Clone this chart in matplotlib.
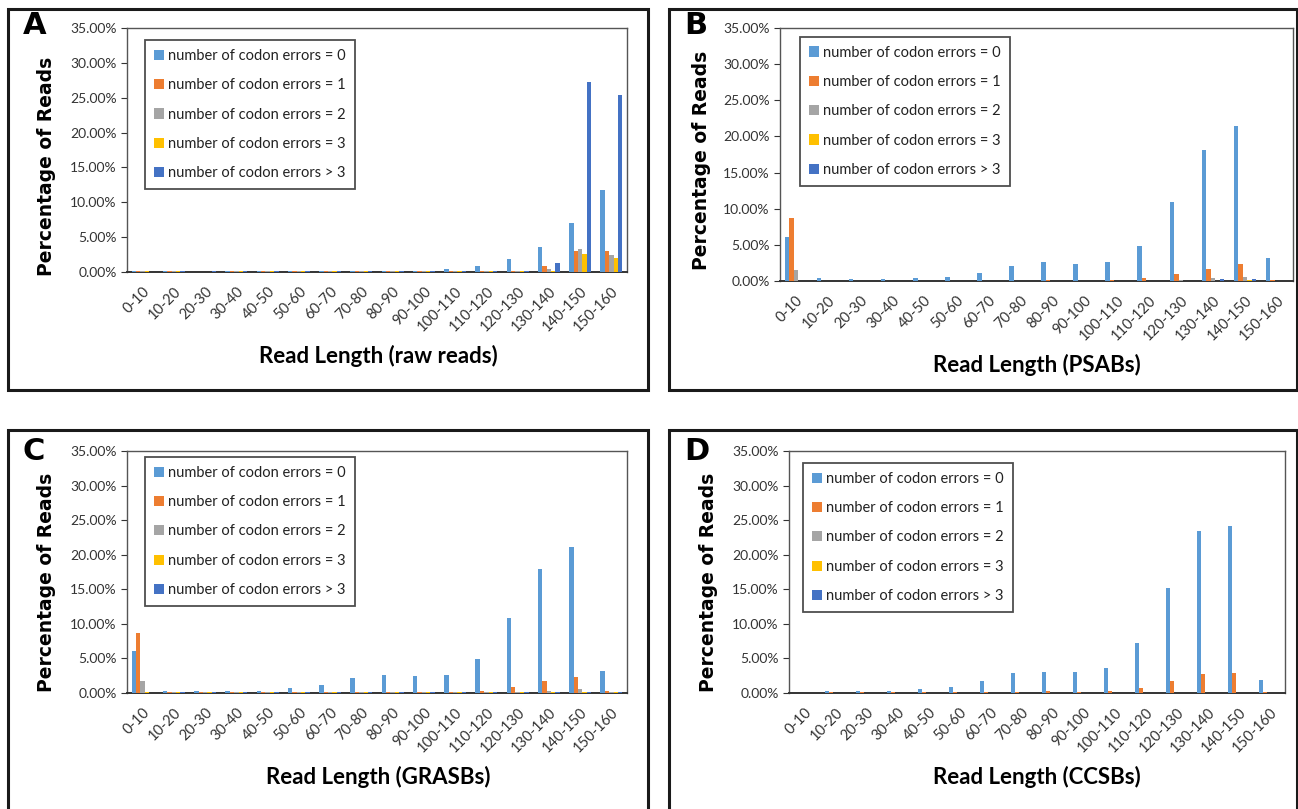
import numpy as np
import matplotlib
matplotlib.use("Agg")
import matplotlib.pyplot as plt
from matplotlib.patches import Rectangle
from matplotlib.ticker import PercentFormatter

plt.rcParams['font.family'] = ['Lato', 'DejaVu Sans']

# categories and series labels
bins = ['0-10', '10-20', '20-30', '30-40', '40-50', '50-60', '60-70', '70-80',
        '80-90', '90-100', '100-110', '110-120', '120-130', '130-140', '140-150', '150-160']
series_labels = ['number of codon errors = 0', 'number of codon errors = 1',
                 'number of codon errors = 2', 'number of codon errors = 3',
                 'number of codon errors > 3']
colors = ['#5B9BD5', '#ED7D31', '#A5A5A5', '#FFC000', '#4472C4']

# A: raw reads (percent)
raw_e0 = [0.15, 0.15, 0.0, 0.15, 0.15, 0.15, 0.15, 0.15, 0.15, 0.15, 0.4, 0.8, 1.9, 3.6, 7.0, 11.8]
raw_e1 = [0.15, 0.15, 0.0, 0.15, 0.15, 0.15, 0.15, 0.15, 0.15, 0.15, 0.15, 0.15, 0.15, 0.8, 3.0, 3.0]
raw_e2 = [0.15, 0.15, 0.0, 0.15, 0.15, 0.15, 0.15, 0.15, 0.15, 0.15, 0.15, 0.15, 0.15, 0.5, 3.3, 2.4]
raw_e3 = [0.15, 0.15, 0.0, 0.15, 0.15, 0.15, 0.15, 0.15, 0.15, 0.15, 0.15, 0.15, 0.15, 0.2, 2.65, 2.05]
raw_e4 = [0.0, 0.15, 0.15, 0.15, 0.15, 0.15, 0.15, 0.15, 0.15, 0.15, 0.15, 0.15, 0.15, 1.35, 27.2, 25.4]

# B: PSABs
psab_e0 = [6.15, 0.42, 0.25, 0.25, 0.42, 0.6, 1.15, 2.1, 2.65, 2.3, 2.65, 4.85, 10.95, 18.1, 21.4, 3.2]
psab_e1 = [8.7, 0.0, 0.0, 0.0, 0.0, 0.0, 0.0, 0.0, 0.2, 0.0, 0.2, 0.4, 1.0, 1.7, 2.3, 0.2]
psab_e2 = [1.55, 0.0, 0.0, 0.0, 0.0, 0.0, 0.0, 0.0, 0.0, 0.0, 0.0, 0.0, 0.2, 0.4, 0.6, 0.0]
psab_e3 = [0.0, 0.0, 0.0, 0.0, 0.0, 0.0, 0.0, 0.0, 0.0, 0.0, 0.0, 0.0, 0.0, 0.0, 0.2, 0.0]
psab_e4 = [0.0, 0.0, 0.0, 0.0, 0.0, 0.0, 0.0, 0.0, 0.0, 0.0, 0.0, 0.0, 0.0, 0.25, 0.25, 0.0]

# C: GRASBs
gras_e0 = [6.1, 0.35, 0.35, 0.35, 0.35, 0.75, 1.1, 2.1, 2.65, 2.45, 2.65, 4.95, 10.9, 17.9, 21.1, 3.2]
gras_e1 = [8.75, 0.15, 0.15, 0.15, 0.15, 0.15, 0.15, 0.15, 0.15, 0.15, 0.15, 0.35, 0.9, 1.75, 2.3, 0.35]
gras_e2 = [1.7, 0.15, 0.15, 0.15, 0.15, 0.15, 0.15, 0.15, 0.15, 0.15, 0.15, 0.15, 0.15, 0.35, 0.6, 0.15]
gras_e3 = [0.15, 0.15, 0.15, 0.15, 0.15, 0.15, 0.15, 0.15, 0.15, 0.15, 0.15, 0.15, 0.15, 0.15, 0.15, 0.15]
gras_e4 = [0.0, 0.15, 0.15, 0.15, 0.15, 0.15, 0.15, 0.15, 0.15, 0.15, 0.15, 0.15, 0.15, 0.15, 0.15, 0.15]

# D: CCSBs
ccsb_e0 = [0.0, 0.35, 0.35, 0.35, 0.6, 0.9, 1.75, 2.9, 3.1, 3.1, 3.6, 7.2, 15.25, 23.4, 24.2, 1.9]
ccsb_e1 = [0.0, 0.2, 0.2, 0.2, 0.2, 0.2, 0.2, 0.2, 0.35, 0.2, 0.35, 0.75, 1.75, 2.7, 2.9, 0.2]
ccsb_e2 = [0.0] * 16
ccsb_e3 = [0.0] * 16
ccsb_e4 = [0.0] * 16

W, H = 1298, 809
fig = plt.figure(figsize=(W / 100, H / 100), dpi=100)


def px_rect(x0, y0, x1, y1):
    return [x0 / W, 1 - y1 / H, (x1 - x0) / W, (y1 - y0) / H]


def panel(box, frame, letter, letter_xy, xlabel, xlab_xy, ylab_xy, leg_anchor, data):
    # outer panel border
    fx0, fy0, fx1, fy1 = frame
    fig.patches.append(Rectangle((fx0 / W, 1 - fy1 / H), (fx1 - fx0) / W, (fy1 - fy0) / H,
                                 transform=fig.transFigure, fill=False, lw=2.2,
                                 edgecolor='#1a1a1a'))
    ax = fig.add_axes(px_rect(*box))
    x = np.arange(len(bins))
    bw = 0.14
    for i, (vals, lab, c) in enumerate(zip(data, series_labels, colors)):
        ax.bar(x + (i - 2) * bw, vals, width=bw, color=c, label=lab,
               linewidth=0, zorder=3)
    ax.set_xlim(-0.5, len(bins) - 0.5)
    ax.set_ylim(0, 35)
    ax.set_yticks(np.arange(0, 36, 5))
    ax.yaxis.set_major_formatter(PercentFormatter(decimals=2))
    ax.set_xticks(x)
    ax.set_xticklabels(bins, rotation=45, ha='right', rotation_mode='anchor')
    ax.tick_params(axis='x', length=0, labelsize=10.5, pad=9, colors='#333333')
    ax.tick_params(axis='y', length=4, labelsize=10, colors='#333333', width=0.8)
    for s in ax.spines.values():
        s.set_color('#555555')
        s.set_linewidth(1.0)
    ax.spines['bottom'].set_color('#333333')
    ax.spines['bottom'].set_linewidth(1.4)
    leg = ax.legend(loc='upper left', bbox_to_anchor=leg_anchor, fontsize=10.5,
                    frameon=True, fancybox=False, labelspacing=1.05,
                    handlelength=0.7, handleheight=0.7, handletextpad=0.3,
                    borderpad=0.6, borderaxespad=0)
    leg.get_frame().set_edgecolor('#222222')
    leg.get_frame().set_linewidth(1.3)
    for t in leg.get_texts():
        t.set_color('#222222')
    fig.text(letter_xy[0] / W, 1 - letter_xy[1] / H, letter, fontsize=22,
             fontweight='bold', family='DejaVu Sans', ha='center', va='center')
    fig.text(xlab_xy[0] / W, 1 - xlab_xy[1] / H, xlabel, fontsize=16,
             fontweight='bold', ha='center', va='center')
    fig.text(ylab_xy[0] / W, 1 - ylab_xy[1] / H, 'Percentage of Reads', fontsize=13.5,
             fontweight='bold', family='DejaVu Sans', rotation=90,
             ha='center', va='center')
    return ax


panel((127, 28, 627, 272), (8, 9, 648, 390), 'A', (35, 26),
      'Read Length (raw reads)', (378, 356), (47, 166), (0.036, 0.95),
      [raw_e0, raw_e1, raw_e2, raw_e3, raw_e4])
panel((780, 28, 1293, 281), (669, 9, 1297, 390), 'B', (696, 26),
      'Read Length (PSABs)', (1037, 365), (701, 160), (0.039, 0.965),
      [psab_e0, psab_e1, psab_e2, psab_e3, psab_e4])
panel((127, 451, 627, 693), (8, 430, 648, 812), 'C', (34, 452),
      'Read Length (GRASBs)', (378, 777), (47, 582), (0.036, 0.975),
      [gras_e0, gras_e1, gras_e2, gras_e3, gras_e4])
panel((789, 451, 1285, 693), (669, 430, 1297, 812), 'D', (697, 452),
      'Read Length (CCSBs)', (1037, 777), (709, 582), (0.028, 0.95),
      [ccsb_e0, ccsb_e1, ccsb_e2, ccsb_e3, ccsb_e4])

fig.savefig('out.png', dpi=100)
